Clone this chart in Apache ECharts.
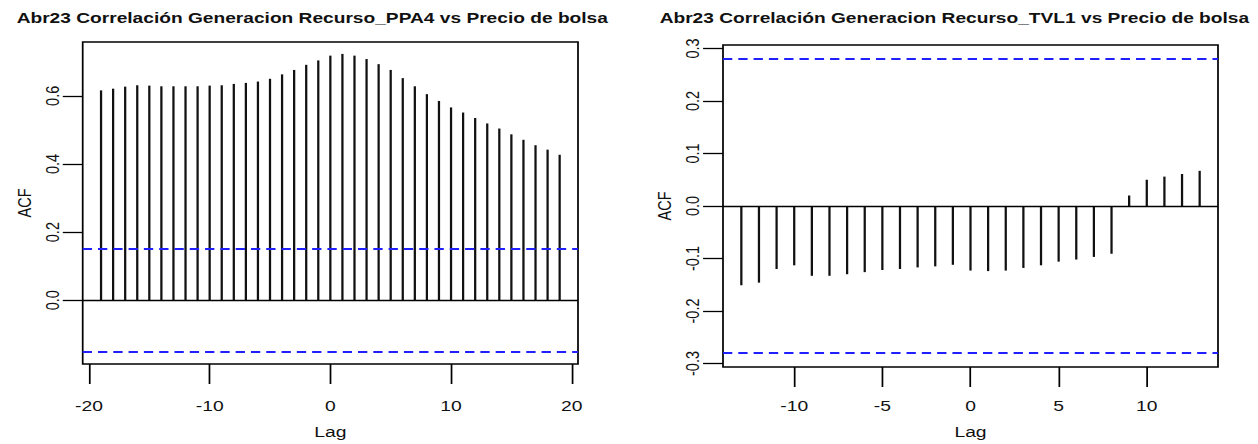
<!DOCTYPE html>
<html>
<head>
<meta charset="utf-8">
<script src="https://cdn.jsdelivr.net/npm/echarts@6/dist/echarts.min.js"></script>
<style>
html,body{margin:0;padding:0;background:#fff;}
#wrap{width:1258px;height:444px;overflow:hidden;position:relative;}
#c{height:444px;transform-origin:0 0;}
</style>
</head>
<body>
<div id="wrap"><div id="c"></div></div>
<script>
// ---- data ----
const titlePPA4 = 'Abr23 Correlación Generacion Recurso_PPA4 vs Precio de bolsa';
const titleTVL1 = 'Abr23 Correlación Generacion Recurso_TVL1 vs Precio de bolsa';
const lagsPPA4 = [-19,-18,-17,-16,-15,-14,-13,-12,-11,-10,-9,-8,-7,-6,-5,-4,-3,-2,-1,0,1,2,3,4,5,6,7,8,9,10,11,12,13,14,15,16,17,18,19];
const acfPPA4 = [0.616,0.621,0.627,0.631,0.630,0.628,0.628,0.628,0.628,0.630,0.631,0.635,0.638,0.642,0.650,0.663,0.676,0.691,0.704,0.718,0.723,0.718,0.708,0.693,0.676,0.652,0.628,0.605,0.585,0.566,0.551,0.535,0.519,0.504,0.487,0.471,0.455,0.442,0.427];
const climPPA4 = 0.152;
const xTicksPPA4 = [-20,-10,0,10,20];
const yTicksPPA4 = [0.0,0.2,0.4,0.6];

const lagsTVL1 = [-13,-12,-11,-10,-9,-8,-7,-6,-5,-4,-3,-2,-1,0,1,2,3,4,5,6,7,8,9,10,11,12,13];
const acfTVL1 = [-0.151,-0.146,-0.120,-0.113,-0.133,-0.133,-0.130,-0.126,-0.122,-0.120,-0.117,-0.115,-0.112,-0.123,-0.124,-0.123,-0.118,-0.113,-0.106,-0.102,-0.097,-0.091,0.020,0.050,0.056,0.061,0.067];
const climTVL1 = 0.284;
const xTicksTVL1 = [-10,-5,0,5,10];
const yTicksTVL1 = [-0.3,-0.2,-0.1,0.0,0.1,0.2,0.3];

// ---- layout (reference pixels; the picture is horizontally stretched) ----
const S = 1.33;
const W = 1258 / S;
const FONT = 'Liberation Sans, Arial, sans-serif';
const el = document.getElementById('c');
el.style.width = W + 'px';
el.style.transform = 'scaleX(' + S + ')';

function expand(arr) {
  const lo = Math.min.apply(null, arr), hi = Math.max.apply(null, arr);
  const d = (hi - lo) * 0.04;
  return [lo - d, hi + d];
}
const xrP = expand(lagsPPA4);
const yrP = expand(acfPPA4.concat([climPPA4, -climPPA4]));
const xrT = expand(lagsTVL1);
const yrT = expand(acfTVL1.concat([climTVL1, -climTVL1]));

const panels = [
  {l: 82.7, r: 578, t: 42, b: 364},
  {l: 723, r: 1218, t: 45, b: 367}
];
const LAG_TOP = 425;
const LABEL_TOP = 399;

function grid(p) {
  return {left: p.l / S, top: p.t, width: (p.r - p.l) / S, height: p.b - p.t,
    containLabel: false, outerBoundsMode: 'none',
    show: true, borderColor: '#000', borderWidth: 1.3, backgroundColor: 'transparent'};
}
function xAxis(i, rng, ticks) {
  const p = panels[i];
  return {type: 'value', gridIndex: i, min: rng[0], max: rng[1], position: 'bottom',
    name: 'Lag', nameLocation: 'middle', nameGap: LAG_TOP - p.b,
    nameTextStyle: {fontFamily: FONT, fontSize: 14.5, color: '#111'},
    axisLine: {show: false, onZero: false}, splitLine: {show: false},
    axisTick: {show: true, length: 20, customValues: ticks, lineStyle: {color: '#000', width: 1.3}},
    axisLabel: {customValues: ticks, margin: LABEL_TOP - p.b, fontFamily: FONT, fontSize: 14.5, color: '#111'}};
}
function yAxis(i, rng, ticks) {
  return {type: 'value', gridIndex: i, min: rng[0], max: rng[1], position: 'left',
    name: 'ACF', nameLocation: 'middle', nameRotate: 90, nameGap: 36,
    nameTextStyle: {fontFamily: FONT, fontSize: 14.5, color: '#111'},
    axisLine: {show: false, onZero: false}, splitLine: {show: false},
    axisTick: {show: true, length: 15, customValues: ticks, lineStyle: {color: '#000', width: 1.3}},
    axisLabel: {customValues: ticks, rotate: 90, margin: 15, fontFamily: FONT, fontSize: 14.5, color: '#111',
      formatter: v => v.toFixed(1)}};
}
function series(i, lags, vals, clim) {
  return {type: 'bar', xAxisIndex: i, yAxisIndex: i, barWidth: 1.7,
    itemStyle: {color: '#111'}, silent: true, animation: false,
    data: lags.map((l, k) => [l, vals[k]]),
    markLine: {silent: true, symbol: 'none', animation: false, label: {show: false},
      data: [
        {yAxis: 0, lineStyle: {color: '#000', width: 1.3, type: 'solid'}},
        {yAxis: clim, lineStyle: {color: '#1f1fff', width: 2, type: [7, 4.5]}},
        {yAxis: -clim, lineStyle: {color: '#1f1fff', width: 2, type: [7, 4.5]}}
      ]}};
}

const chart = echarts.init(el, null, {renderer: 'svg'});
chart.setOption({
  animation: false,
  title: [
    {text: titlePPA4, left: 10 / S, top: 6, textStyle: {fontFamily: FONT, fontSize: 14.4, fontWeight: 'bold', color: '#111'}},
    {text: titleTVL1, left: 653 / S, top: 6, textStyle: {fontFamily: FONT, fontSize: 14.4, fontWeight: 'bold', color: '#111'}}
  ],
  grid: [grid(panels[0]), grid(panels[1])],
  xAxis: [xAxis(0, xrP, xTicksPPA4), xAxis(1, xrT, xTicksTVL1)],
  yAxis: [yAxis(0, yrP, yTicksPPA4), yAxis(1, yrT, yTicksTVL1)],
  series: [series(0, lagsPPA4, acfPPA4, climPPA4), series(1, lagsTVL1, acfTVL1, climTVL1)]
});
</script>
</body>
</html>
